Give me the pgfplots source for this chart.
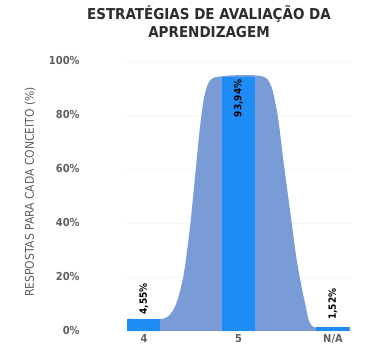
\documentclass[border=0pt]{standalone}
\usepackage{pgfplots}
\pgfplotsset{compat=1.18}
\usepackage{fontspec}
\setmainfont{DejaVu Sans Condensed}

\definecolor{barblue}{RGB}{30,140,245}
\definecolor{areablue}{RGB}{122,156,214}
\definecolor{titlegray}{RGB}{45,45,45}
\definecolor{tickgray}{RGB}{95,95,95}

\begin{document}
\begin{tikzpicture}
\begin{axis}[
    at={(125.1pt,27pt)}, anchor=south west,
    scale only axis,
    width=226.8pt, height=270pt,
    xmin=-0.2, xmax=2.2,
    ymin=0, ymax=100,
    ybar, bar width=33pt, bar shift=0pt,
    xtick={0,1,2},
    xticklabels={4,5,N/A},
    ytick={0,20,40,60,80,100},
    /pgf/number format/assume math mode=true,
    yticklabel={\pgfmathprintnumber{\tick}\%},
    yticklabel style={xshift=-42pt, font=\fontsize{11}{12}\selectfont\bfseries, text=tickgray},
    xticklabel style={font=\fontsize{11}{12}\selectfont\bfseries, text=tickgray},
    axis line style={draw=none},
    major tick length=0pt,
    ymajorgrids,
    major grid style={gray!7, line width=0.6pt},
    title={ESTRATÉGIAS DE AVALIAÇÃO DA\\APRENDIZAGEM},
    title style={at={(axis description cs:0.37,1.125)}, anchor=center, align=center,
        font=\fontsize{15}{18}\selectfont\bfseries, text=titlegray},
    ylabel={RESPOSTAS PARA CADA CONCEITO (\%)},
    ylabel style={at={(axis description cs:-0.419,0.515)}, anchor=center, rotate=0,
        font=\fontsize{12}{13}\selectfont, text=tickgray},
    clip=false,
]
% area behind the bars
\addplot[ybar=false, fill=areablue, draw=none, smooth, tension=0.45] coordinates {
    (-0.169,4.55) (0.204,4.55) (0.328,9.0) (0.416,20.1) (0.487,38.6)
    (0.540,57.1) (0.593,75.7) (0.646,88.0) (0.751,93.94)
    (1.280,93.94) (1.404,81.9) (1.474,63.3) (1.545,44.8) (1.616,26.3)
    (1.704,10.4) (1.792,1.52) (2.18,1.52)
} \closedcycle;

\addplot[fill=barblue, draw=none,
    nodes near coords={\textbf{4,55\%}},
    every node near coord/.append style={rotate=90, anchor=west, inner sep=1pt,
        xshift=3pt, font=\fontsize{10}{11}\selectfont, text=black}]
    coordinates {(0,4.55)};
\addplot[fill=barblue, draw=none,
    nodes near coords={\textbf{93,94\%}},
    every node near coord/.append style={rotate=90, anchor=east, inner sep=2pt,
        font=\fontsize{10}{11}\selectfont, text=black}]
    coordinates {(1,93.94)};
\addplot[fill=barblue, draw=none,
    nodes near coords={\textbf{1,52\%}},
    every node near coord/.append style={rotate=90, anchor=west, inner sep=1pt,
        xshift=6pt, font=\fontsize{10}{11}\selectfont, text=black}]
    coordinates {(2,1.52)};
\end{axis}
\pgfresetboundingbox
\path[use as bounding box] (0,0) rectangle (365pt,358pt);
\end{tikzpicture}
\end{document}
